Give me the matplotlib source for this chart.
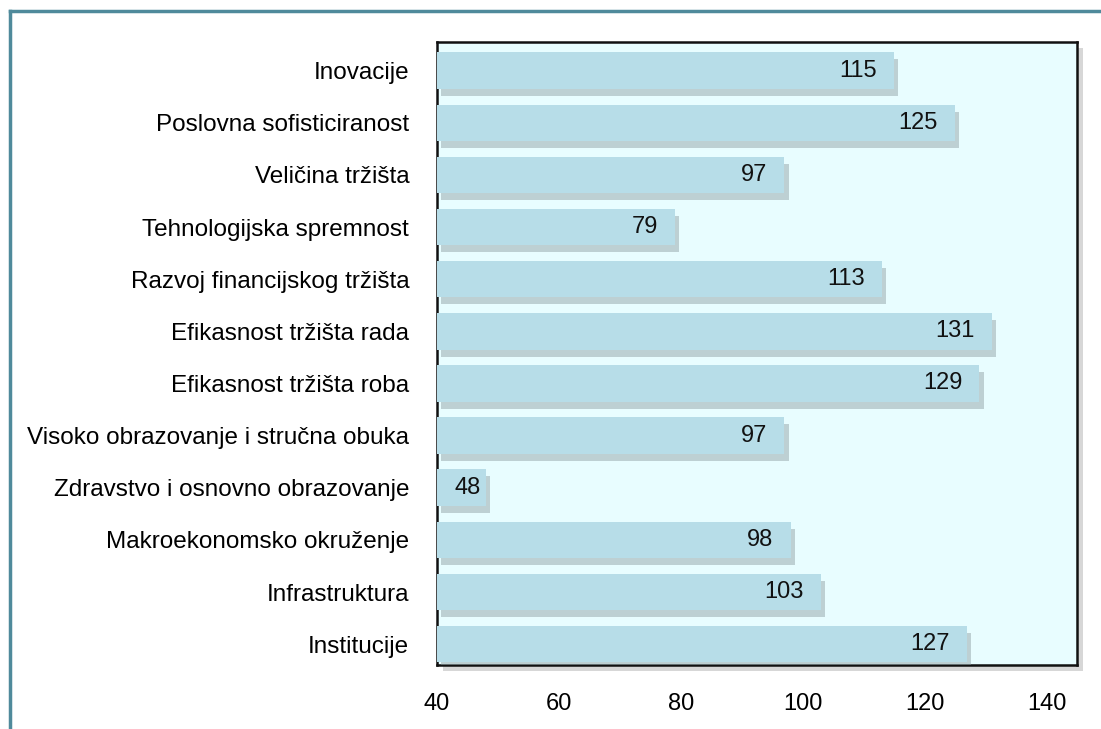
import matplotlib
matplotlib.use('Agg')
import matplotlib.pyplot as plt
import matplotlib.patheffects as pe
from matplotlib.lines import Line2D

categories = [
    'Institucije',
    'Infrastruktura',
    'Makroekonomsko okruženje',
    'Zdravstvo i osnovno obrazovanje',
    'Visoko obrazovanje i stručna obuka',
    'Efikasnost tržišta roba',
    'Efikasnost tržišta rada',
    'Razvoj financijskog tržišta',
    'Tehnologijska spremnost',
    'Veličina tržišta',
    'Poslovna sofisticiranost',
    'Inovacije',
]
values = [127, 103, 98, 48, 97, 129, 131, 113, 79, 97, 125, 115]
x_ticks = [40, 60, 80, 100, 120, 140]

plt.rcParams['font.family'] = ['Liberation Sans', 'DejaVu Sans']

fig = plt.figure(figsize=(11.01, 7.29), dpi=100)
fig.patch.set_facecolor('white')

# outer frame (teal lines at top and left)
frame_color = '#4f8a9b'
fig.add_artist(Line2D([10 / 1101, 10 / 1101], [0, 1 - 11 / 729],
                      transform=fig.transFigure, color=frame_color, lw=2.5))
fig.add_artist(Line2D([10 / 1101, 1], [1 - 11 / 729, 1 - 11 / 729],
                      transform=fig.transFigure, color=frame_color, lw=2.5))

ax = fig.add_axes([437 / 1101, 1 - 665 / 729, (1077 - 437) / 1101, (665 - 42) / 729])
ax.set_facecolor('#e8fdff')
ax.patch.set_path_effects([pe.SimplePatchShadow(offset=(4, -4), shadow_rgbFace='#b0b0b0', alpha=0.5),
                           pe.Normal()])

ypos = list(range(len(categories)))
bars = ax.barh(ypos, [v - 40 for v in values], left=40, height=0.7,
               color='#b7dde8', edgecolor='none', zorder=3)
for b in bars:
    b.set_path_effects([pe.SimplePatchShadow(offset=(3, -5), shadow_rgbFace='#8a9a9e', alpha=0.45),
                        pe.Normal()])

# labels sit inside the bar end; short bars keep the label inside the bar
for y, v in zip(ypos, values):
    ax.text(max(v - 2.8, 47.2), y, str(v), ha='right', va='center', fontsize=17,
            color='#111111', zorder=4)

ax.set_xlim(40, 145)
ax.set_ylim(-0.4, 11.55)
ax.set_xticks(x_ticks)
ax.set_xticklabels([str(t) for t in x_ticks], fontsize=17)
ax.set_yticks(ypos)
ax.set_yticklabels(categories, fontsize=17.5)
ax.tick_params(axis='both', length=0)
ax.tick_params(axis='x', pad=20)
ax.tick_params(axis='y', pad=20)
for s in ax.spines.values():
    s.set_color('#111111')
    s.set_linewidth(1.8)

fig.savefig('out.png', dpi=100)
